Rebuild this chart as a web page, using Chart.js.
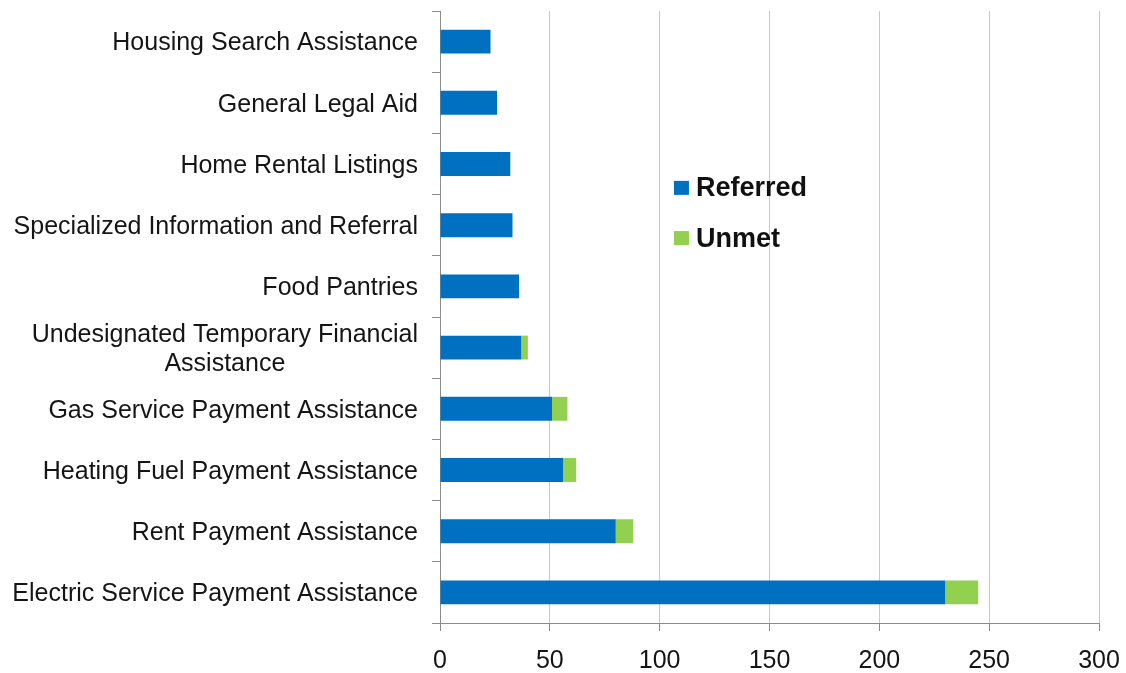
<!DOCTYPE html>
<html lang="en">
<head>
  <meta charset="UTF-8">
  <title>Referred vs Unmet needs</title>
  <script src="https://cdn.jsdelivr.net/npm/chart.js"></script>
  <style>
    html, body { margin: 0; padding: 0; background: #fff; }
    #wrap { width: 1126px; height: 673px; }
  </style>
</head>
<body>
  <div id="wrap"><canvas id="needsChart" width="1126" height="673"></canvas></div>
  <script>
  // categories, top to bottom
  const categories = [
    'Housing Search Assistance',
    'General Legal Aid',
    'Home Rental Listings',
    'Specialized Information and Referral',
    'Food Pantries',
    ['Undesignated Temporary Financial', 'Assistance'],
    'Gas Service Payment Assistance',
    'Heating Fuel Payment Assistance',
    'Rent Payment Assistance',
    'Electric Service Payment Assistance'
  ];
  const referred = [23, 26, 32, 33, 36, 37, 51, 56, 80, 230];
  const unmet    = [0, 0, 0, 0, 0, 3, 7, 6, 8, 15];
  const xTicks   = [0, 50, 100, 150, 200, 250, 300];

  const FONT = '"Liberation Sans", Arial, sans-serif';

  // draws the category labels (the two-line one is centred like the original)
  const yLabels = {
    id: 'yLabels',
    afterDraw(chart) {
      const { ctx } = chart;
      const y = chart.scales.y;
      const right = y.right - 22;
      ctx.save();
      ctx.fillStyle = '#151515';
      ctx.font = '25px ' + FONT;
      ctx.textBaseline = 'middle';
      categories.forEach((lab, i) => {
        const cy = y.getPixelForValue(i) + 2;
        if (Array.isArray(lab)) {
          const w = Math.max(...lab.map(s => ctx.measureText(s).width));
          const cx = right - w / 2;
          const lh = 29;
          ctx.textAlign = 'center';
          lab.forEach((s, k) => {
            ctx.fillText(s, cx, cy + (k - (lab.length - 1) / 2) * lh);
          });
        } else {
          ctx.textAlign = 'right';
          ctx.fillText(lab, right, cy);
        }
      });
      ctx.restore();
    }
  };

  // legend sits inside the plot area
  const innerLegend = {
    id: 'innerLegend',
    afterDraw(chart) {
      const { ctx, chartArea: a } = chart;
      const x = a.left + 0.355 * (a.right - a.left);
      const ys = [0.289, 0.371].map(f => a.top + f * (a.bottom - a.top));
      ctx.save();
      ctx.font = 'bold 27px ' + FONT;
      ctx.textBaseline = 'middle';
      ctx.textAlign = 'left';
      chart.data.datasets.forEach((ds, i) => {
        ctx.fillStyle = ds.backgroundColor;
        ctx.fillRect(x, ys[i] - 7, 15, 14);
        ctx.fillStyle = '#111';
        ctx.fillText(ds.label, x + 22, ys[i] + 1);
      });
      ctx.restore();
    }
  };

  new Chart(document.getElementById('needsChart'), {
    type: 'bar',
    data: {
      labels: categories,
      datasets: [
        { label: 'Referred', data: referred, backgroundColor: '#0070C0' },
        { label: 'Unmet', data: unmet, backgroundColor: '#92D050' }
      ]
    },
    options: {
      indexAxis: 'y',
      responsive: false,
      animation: false,
      layout: { padding: { top: 11, right: 27, bottom: 0, left: 0 } },
      categoryPercentage: 1,
      barPercentage: 0.39,
      plugins: {
        legend: { display: false },
        tooltip: { enabled: false }
      },
      scales: {
        x: {
          stacked: true,
          min: 0,
          max: 300,
          afterBuildTicks(scale) { scale.ticks = xTicks.map(v => ({ value: v })); },
          afterFit(scale) {
            scale.height = 50;
            scale.paddingLeft = 0;
            scale.paddingRight = 0;
          },
          grid: { color: '#c8c8c8', lineWidth: 1, tickColor: '#8c8c8c', tickLength: 8 },
          border: { color: '#8c8c8c', width: 1 },
          ticks: { color: '#151515', font: { family: FONT, size: 25 }, padding: 15, maxRotation: 0 }
        },
        y: {
          stacked: true,
          afterFit(scale) { scale.width = 440; },
          grid: { drawOnChartArea: false, tickColor: '#8c8c8c', tickLength: 8, offset: true },
          border: { color: '#8c8c8c', width: 1 },
          ticks: { display: false }
        }
      }
    },
    plugins: [yLabels, innerLegend]
  });
  </script>
</body>
</html>
